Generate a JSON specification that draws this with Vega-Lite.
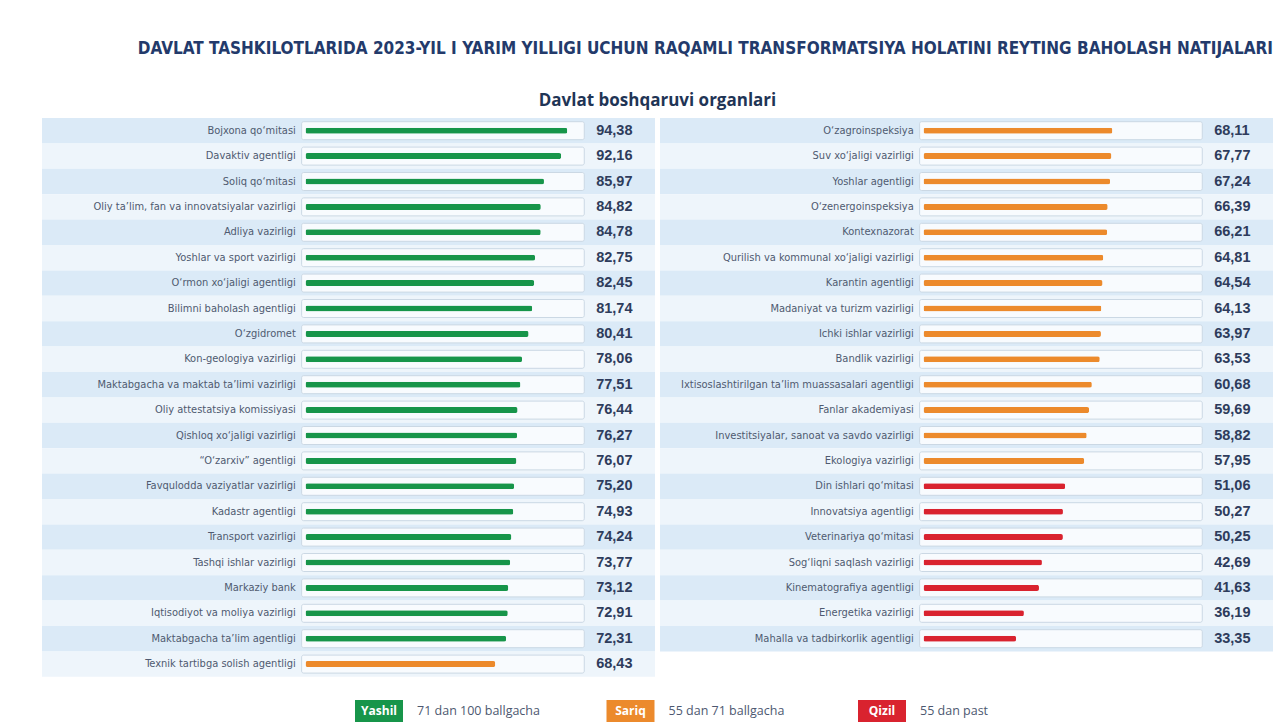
{
  "$schema": "https://vega.github.io/schema/vega-lite/v6.json",
  "background": "white",
  "padding": {"left": 42, "top": 40, "right": 0, "bottom": 0},
  "title": {"text": "DAVLAT TASHKILOTLARIDA 2023-YIL I YARIM YILLIGI UCHUN RAQAMLI TRANSFORMATSIYA HOLATINI REYTING BAHOLASH NATIJALARI", "anchor": "end", "font": "DejaVu Sans Condensed", "fontSize": 17, "fontWeight": "bold", "color": "#233a6b", "offset": 34},
  "datasets": {
    "left": [
      {"name": "Bojxona qo‘mitasi", "value": 94.38},
      {"name": "Davaktiv agentligi", "value": 92.16},
      {"name": "Soliq qo‘mitasi", "value": 85.97},
      {"name": "Oliy ta’lim, fan va innovatsiyalar vazirligi", "value": 84.82},
      {"name": "Adliya vazirligi", "value": 84.78},
      {"name": "Yoshlar va sport vazirligi", "value": 82.75},
      {"name": "O‘rmon xo‘jaligi agentligi", "value": 82.45},
      {"name": "Bilimni baholash agentligi", "value": 81.74},
      {"name": "O‘zgidromet", "value": 80.41},
      {"name": "Kon-geologiya vazirligi", "value": 78.06},
      {"name": "Maktabgacha va maktab ta’limi vazirligi", "value": 77.51},
      {"name": "Oliy attestatsiya komissiyasi", "value": 76.44},
      {"name": "Qishloq xo‘jaligi vazirligi", "value": 76.27},
      {"name": "“O‘zarxiv” agentligi", "value": 76.07},
      {"name": "Favqulodda vaziyatlar vazirligi", "value": 75.20},
      {"name": "Kadastr agentligi", "value": 74.93},
      {"name": "Transport vazirligi", "value": 74.24},
      {"name": "Tashqi ishlar vazirligi", "value": 73.77},
      {"name": "Markaziy bank", "value": 73.12},
      {"name": "Iqtisodiyot va moliya vazirligi", "value": 72.91},
      {"name": "Maktabgacha ta’lim agentligi", "value": 72.31},
      {"name": "Texnik tartibga solish agentligi", "value": 68.43}
    ],
    "right": [
      {"name": "O‘zagroinspeksiya", "value": 68.11},
      {"name": "Suv xo‘jaligi vazirligi", "value": 67.77},
      {"name": "Yoshlar agentligi", "value": 67.24},
      {"name": "O‘zenergoinspeksiya", "value": 66.39},
      {"name": "Kontexnazorat", "value": 66.21},
      {"name": "Qurilish va kommunal xo‘jaligi vazirligi", "value": 64.81},
      {"name": "Karantin agentligi", "value": 64.54},
      {"name": "Madaniyat va turizm vazirligi", "value": 64.13},
      {"name": "Ichki ishlar vazirligi", "value": 63.97},
      {"name": "Bandlik vazirligi", "value": 63.53},
      {"name": "Ixtisoslashtirilgan ta’lim muassasalari agentligi", "value": 60.68},
      {"name": "Fanlar akademiyasi", "value": 59.69},
      {"name": "Investitsiyalar, sanoat va savdo vazirligi", "value": 58.82},
      {"name": "Ekologiya vazirligi", "value": 57.95},
      {"name": "Din ishlari qo‘mitasi", "value": 51.06},
      {"name": "Innovatsiya agentligi", "value": 50.27},
      {"name": "Veterinariya qo‘mitasi", "value": 50.25},
      {"name": "Sog‘liqni saqlash vazirligi", "value": 42.69},
      {"name": "Kinematografiya agentligi", "value": 41.63},
      {"name": "Energetika vazirligi", "value": 36.19},
      {"name": "Mahalla va tadbirkorlik agentligi", "value": 33.35}
    ],
    "legend": [
      {"grade": "Yashil", "desc": "71 dan 100 ballgacha"},
      {"grade": "Sariq", "desc": "55 dan 71 ballgacha"},
      {"grade": "Qizil", "desc": "55 dan past"}
    ]
  },
  "vconcat": [
    {
      "title": {"text": "Davlat boshqaruvi organlari", "anchor": "middle", "font": "Open Sans", "fontSize": 17, "fontWeight": "bold", "color": "#1f3556", "offset": 8},
      "spacing": 5,
      "hconcat": [
        {
          "data": {"name": "left"},
          "width": 613,
          "height": {"step": 25.4},
          "transform": [{"window": [{"op": "row_number", "as": "rn"}], "sort": [{"field": "value", "order": "descending"}]}],
          "encoding": {"y": {"field": "name", "type": "nominal", "sort": {"field": "value", "order": "descending"}, "axis": null, "scale": {"paddingInner": 0, "paddingOuter": 0}}},
          "layer": [
            {"mark": {"type": "rect"}, "encoding": {"x": {"datum": -95, "type": "quantitative", "scale": {"domain": [-95, 126], "nice": false, "zero": false}, "axis": null}, "x2": {"datum": 126}, "fill": {"condition": {"test": "datum.rn % 2 === 1", "value": "#dbeaf7"}, "value": "#eef5fb"}}},
            {"mark": {"type": "bar", "size": 18, "fill": "#f8fbfe", "stroke": "#cbd8e4", "strokeWidth": 1, "cornerRadius": 2}, "encoding": {"x": {"datum": -1.4, "type": "quantitative", "scale": {"domain": [-95, 126], "nice": false, "zero": false}, "axis": null}, "x2": {"datum": 100.5}}},
            {"mark": {"type": "bar", "size": 6, "cornerRadius": 2}, "encoding": {"x": {"field": "value", "type": "quantitative", "scale": {"domain": [-95, 126], "nice": false, "zero": false}, "axis": null}, "color": {"field": "value", "type": "quantitative", "scale": {"type": "threshold", "domain": [55, 71], "range": ["#d9232f", "#ec8a2c", "#17954a"]}, "legend": null}}},
            {"mark": {"type": "text", "align": "right", "baseline": "middle", "font": "DejaVu Sans Condensed", "fontSize": 11, "color": "#4f5a70"}, "encoding": {"x": {"datum": -3.5, "type": "quantitative", "scale": {"domain": [-95, 126], "nice": false, "zero": false}, "axis": null}, "text": {"field": "name"}}},
            {"mark": {"type": "text", "align": "left", "baseline": "middle", "font": "Liberation Sans", "fontSize": 14.5, "fontWeight": "bold", "color": "#2e3c5c"}, "encoding": {"x": {"datum": 104.8, "type": "quantitative", "scale": {"domain": [-95, 126], "nice": false, "zero": false}, "axis": null}, "text": {"field": "value", "type": "quantitative", "format": ".2f"}}}
          ]
        },
        {
          "data": {"name": "right"},
          "width": 613,
          "height": {"step": 25.4},
          "transform": [{"window": [{"op": "row_number", "as": "rn"}], "sort": [{"field": "value", "order": "descending"}]}],
          "encoding": {"y": {"field": "name", "type": "nominal", "sort": {"field": "value", "order": "descending"}, "axis": null, "scale": {"paddingInner": 0, "paddingOuter": 0}}},
          "layer": [
            {"mark": {"type": "rect"}, "encoding": {"x": {"datum": -95, "type": "quantitative", "scale": {"domain": [-95, 126], "nice": false, "zero": false}, "axis": null}, "x2": {"datum": 126}, "fill": {"condition": {"test": "datum.rn % 2 === 1", "value": "#dbeaf7"}, "value": "#eef5fb"}}},
            {"mark": {"type": "bar", "size": 18, "fill": "#f8fbfe", "stroke": "#cbd8e4", "strokeWidth": 1, "cornerRadius": 2}, "encoding": {"x": {"datum": -1.4, "type": "quantitative", "scale": {"domain": [-95, 126], "nice": false, "zero": false}, "axis": null}, "x2": {"datum": 100.5}}},
            {"mark": {"type": "bar", "size": 6, "cornerRadius": 2}, "encoding": {"x": {"field": "value", "type": "quantitative", "scale": {"domain": [-95, 126], "nice": false, "zero": false}, "axis": null}, "color": {"field": "value", "type": "quantitative", "scale": {"type": "threshold", "domain": [55, 71], "range": ["#d9232f", "#ec8a2c", "#17954a"]}, "legend": null}}},
            {"mark": {"type": "text", "align": "right", "baseline": "middle", "font": "DejaVu Sans Condensed", "fontSize": 11, "color": "#4f5a70"}, "encoding": {"x": {"datum": -3.5, "type": "quantitative", "scale": {"domain": [-95, 126], "nice": false, "zero": false}, "axis": null}, "text": {"field": "name"}}},
            {"mark": {"type": "text", "align": "left", "baseline": "middle", "font": "Liberation Sans", "fontSize": 14.5, "fontWeight": "bold", "color": "#2e3c5c"}, "encoding": {"x": {"datum": 104.8, "type": "quantitative", "scale": {"domain": [-95, 126], "nice": false, "zero": false}, "axis": null}, "text": {"field": "value", "type": "quantitative", "format": ".2f"}}}
          ]
        }
      ]
    },
    {
      "data": {"name": "legend"},
      "width": 1231,
      "height": 24,
      "encoding": {"x": {"field": "grade", "type": "nominal", "sort": null, "scale": {"type": "point", "range": [337, 840], "padding": 0}, "axis": null}},
      "layer": [
        {"mark": {"type": "point", "shape": "M-1,-0.46H1V0.46H-1Z", "filled": true, "size": 2304, "opacity": 1, "strokeWidth": 0}, "encoding": {"color": {"field": "grade", "type": "nominal", "scale": {"domain": ["Yashil", "Sariq", "Qizil"], "range": ["#17954a", "#ec8a2c", "#d9232f"]}, "legend": null}}},
        {"mark": {"type": "text", "color": "white", "fontWeight": "bold", "fontSize": 12, "font": "Open Sans", "baseline": "middle"}, "encoding": {"text": {"field": "grade"}}},
        {"mark": {"type": "text", "align": "left", "baseline": "middle", "dx": 38, "fontSize": 12.5, "color": "#4d5870", "font": "Open Sans"}, "encoding": {"text": {"field": "desc"}}}
      ]
    }
  ],
  "spacing": 22,
  "resolve": {"scale": {"color": "independent"}},
  "config": {
    "view": {"stroke": null},
    "locale": {"number": {"decimal": ",", "thousands": ".", "grouping": [3], "currency": ["", ""]}}
  }
}
